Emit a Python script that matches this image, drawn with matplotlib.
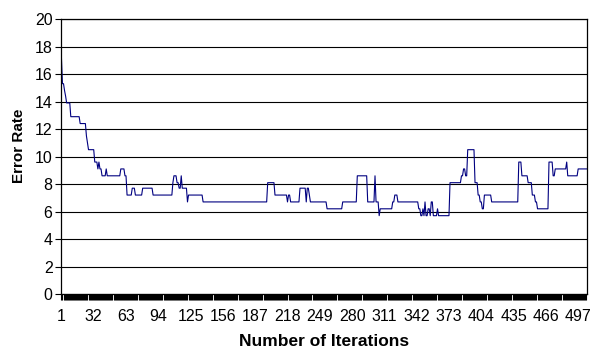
import numpy as np
import matplotlib
matplotlib.use("Agg")
import matplotlib.pyplot as plt
from matplotlib.ticker import MultipleLocator

plt.rcParams["font.family"] = ["Liberation Sans", "DejaVu Sans"]

# error rate per iteration, stored as (first iteration, level) steps
step_start = [1, 2, 4, 5, 6, 10, 19, 25, 26, 27, 33, 36, 37, 38, 40, 44, 45,
              58, 62, 64, 69, 72, 79, 89, 108, 109, 112, 114, 116, 117, 122, 123,
              137, 199, 206, 218, 219, 221, 230, 236, 237, 239, 240, 256, 271,
              285, 295, 302, 303, 306, 307, 319, 321, 324, 344, 346, 348, 349,
              350, 351, 353, 355, 356, 358, 362, 363, 374, 385, 387, 389, 391,
              398, 401, 403, 405, 407, 414, 440, 443, 449, 453, 456, 458, 469,
              473, 475, 486, 487, 497]
step_level = [17.2, 15.3, 14.8, 14.4, 13.9, 12.9, 12.4, 11.5, 11.0, 10.5, 9.6,
              9.1, 9.6, 9.1, 8.6, 9.1, 8.6, 9.1, 8.6, 7.2, 7.7, 7.2, 7.7, 7.2,
              8.1, 8.6, 8.1, 7.7, 8.6, 7.7, 6.7, 7.2, 6.7, 8.1, 7.2, 6.7, 7.2,
              6.7, 7.7, 6.7, 7.7, 7.2, 6.7, 6.2, 6.7, 8.6, 6.7, 8.6, 6.7, 5.7,
              6.2, 6.7, 7.2, 6.7, 6.2, 5.7, 6.2, 5.7, 6.7, 5.7, 6.2, 5.7, 6.7,
              5.7, 6.2, 5.7, 8.1, 8.6, 9.1, 8.6, 10.5, 8.1, 7.2, 6.7, 6.2, 7.2,
              6.7, 9.6, 8.6, 8.1, 7.2, 6.7, 6.2, 9.6, 8.6, 9.1, 9.6, 8.6, 9.1]
n_iter = 505

x_labels = list(range(1, n_iter, 31))
y_ticks = list(range(0, 21, 2))

# expand the steps into one value per iteration
lengths = np.diff(step_start + [n_iter + 1])
error_rate = np.repeat(step_level, lengths)
iterations = np.arange(1, n_iter + 1)

fig = plt.figure(figsize=(6.03, 3.53), dpi=100)
ax = fig.add_axes([0.101, 0.167, 0.8725, 0.779])

ax.plot(iterations, error_rate, color="#000080", linewidth=0.8)

ax.set_xlim(0.5, n_iter + 0.5)
ax.set_ylim(0, 20)
ax.set_yticks(y_ticks)
ax.yaxis.grid(True, color="black", linewidth=0.8)
ax.set_axisbelow(True)

ax.set_xticks(x_labels)
ax.set_xticklabels([str(v) for v in x_labels])
ax.xaxis.set_minor_locator(MultipleLocator(1))
ax.tick_params(axis="x", which="both", direction="out", length=4, width=0.8,
               labelsize=11.5, pad=7)
ax.tick_params(axis="y", direction="out", length=4, width=0.8, labelsize=11.5,
               pad=2)

for s in ax.spines.values():
    s.set_color("black")
    s.set_linewidth(0.9)

ax.set_xlabel("Number of Iterations", fontsize=12.5, fontweight="bold", labelpad=7)
ax.set_ylabel("Error Rate", fontsize=11, fontweight="bold")
ax.yaxis.set_label_coords(-0.066, 0.54)

fig.savefig("out.png", dpi=100)
